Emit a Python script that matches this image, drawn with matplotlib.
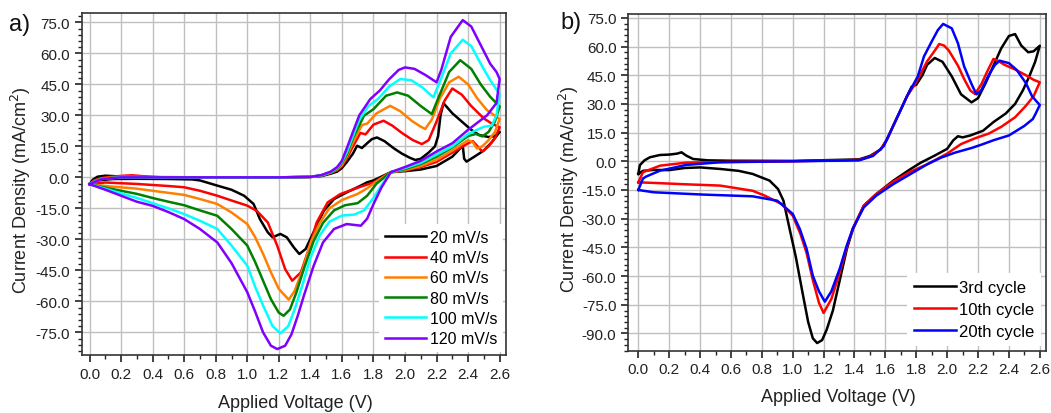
import matplotlib
matplotlib.use('Agg')
import matplotlib.pyplot as plt
from matplotlib.ticker import MultipleLocator, FormatStrFormatter

plt.rcParams['font.family'] = ['Liberation Sans', 'DejaVu Sans']
plt.rcParams['axes.unicode_minus'] = False

# ---- panel a: scan rates (forward sweep then reverse sweep) ----
rate_labels = ['20 mV/s', '40 mV/s', '60 mV/s', '80 mV/s', '100 mV/s', '120 mV/s']
rate_colors = ['#000000', '#ff0000', '#ff8000', '#008000', '#00ffff', '#8000ff']

v20 = [0.0, 0.02, 0.05, 0.1, 0.15, 0.25, 0.4, 0.8, 1.2, 1.4, 1.47, 1.53, 1.57, 1.6, 1.63, 1.67, 1.696, 1.727,
       1.76, 1.79, 1.822, 1.87, 1.93, 1.98, 2.03, 2.065, 2.1, 2.15, 2.19, 2.21, 2.225, 2.244, 2.3, 2.36, 2.42,
       2.47, 2.53, 2.57, 2.6,
       2.55, 2.5, 2.45, 2.39, 2.375, 2.366, 2.35, 2.3, 2.2, 2.1, 2.0, 1.91, 1.8, 1.76, 1.72, 1.63, 1.55, 1.485,
       1.42, 1.37, 1.33, 1.295, 1.25, 1.21, 1.16, 1.13, 1.08, 1.04, 0.98, 0.9, 0.81, 0.7, 0.65, 0.5, 0.3, 0.15,
       0.05, 0.0]
j20 = [-3.3, -1.2, 0.3, 0.8, 0.6, 0.2, 0, 0, 0, 0.2, 0.6, 1.8, 2.8, 4.5, 7.3, 11.5, 15.3, 14.2,
       16.5, 18.5, 19.3, 17.5, 14, 11.5, 9.5, 8.4, 9, 12, 15, 20, 30, 35.9, 31, 27, 23,
       20.5, 19.5, 20, 22,
       17, 13, 10.5, 7.6, 9, 15.5, 14, 10, 5.5, 3.8, 3.0, 2.5, -1.5, -2.4, -4.0, -7.3, -10.5, -16.2,
       -26.6, -34.7, -37.1, -33.9, -29, -27.4, -29, -26.6, -20.2, -12.9, -8.9, -6, -4, -1.5, -1, -0.8, -0.7, -0.8,
       -1.5, -3.3]

v40 = [0.0, 0.03, 0.08, 0.15, 0.22, 0.27, 0.33, 0.45, 0.8, 1.2, 1.4, 1.47, 1.53, 1.57, 1.6, 1.63, 1.67, 1.717,
       1.75, 1.8, 1.864, 1.92, 1.98, 2.05, 2.107, 2.15, 2.2, 2.25, 2.30, 2.36, 2.42, 2.5, 2.55, 2.6,
       2.57, 2.53, 2.49, 2.46, 2.43, 2.4, 2.3, 2.2, 2.1, 2.0, 1.91, 1.8, 1.72, 1.59, 1.51, 1.44, 1.39, 1.34,
       1.285, 1.24, 1.19, 1.13, 1.06, 1.0, 0.9, 0.81, 0.7, 0.6, 0.5, 0.4, 0.3, 0.1, 0.0]
j40 = [-3.3, -1.5, -0.3, 0.4, 0.8, 1.0, 0.6, 0.1, 0, 0, 0.2, 0.8, 2.2, 3.5, 5.5, 9, 15, 21.5,
       20.8, 25.5, 27.4, 25, 21.5, 18, 16.1, 18, 27, 37, 43, 40, 34.5, 28.5, 26, 24.2,
       19, 15, 12.5, 15, 17.5, 16.5, 12, 7.5, 5, 3.3, 2.5, -2.5, -4.5, -8.1, -12.1, -21.8, -34.7, -46,
       -50, -44.4, -33.1, -21.8, -16.2, -13.7, -11.2, -8.9, -6.5, -4.8, -4.2, -3.7, -3.2, -2.5, -3.3]

v60 = [0.0, 0.03, 0.08, 0.2, 0.4, 0.8, 1.2, 1.4, 1.47, 1.53, 1.57, 1.6, 1.63, 1.67, 1.727, 1.76, 1.82, 1.906,
       1.97, 2.04, 2.1, 2.128, 2.17, 2.22, 2.28, 2.34, 2.4, 2.46, 2.52, 2.6,
       2.57, 2.53, 2.49, 2.455, 2.43, 2.4, 2.3, 2.2, 2.1, 2.0, 1.91, 1.82, 1.76, 1.7, 1.6, 1.52, 1.46, 1.4,
       1.35, 1.3, 1.263, 1.2, 1.15, 1.1, 1.05, 1.0, 0.9, 0.81, 0.7, 0.6, 0.5, 0.4, 0.3, 0.1, 0.0]
j60 = [-3.3, -1.8, -0.5, 0.3, 0.1, 0, 0, 0.2, 0.9, 2.3, 3.8, 6, 10, 17, 25.3, 26, 31, 34.6,
       32, 27.5, 24.5, 23.4, 28, 38, 46, 48.7, 45, 38, 32.5, 28.2,
       22, 18, 15, 14, 17, 18, 13, 8.5, 5.5, 3.5, 2.5, -2, -5.3, -8, -11, -15, -22, -32,
       -45, -55, -59.2, -54, -46, -37, -29, -22.6, -17, -12.9, -10.5, -8.5, -7.5, -6.5, -5.5, -4.2, -3.3]

v80 = [0.0, 0.03, 0.08, 0.2, 0.6, 1.2, 1.4, 1.47, 1.53, 1.57, 1.6, 1.63, 1.67, 1.74, 1.8, 1.88, 1.95, 2.02,
       2.1, 2.17, 2.22, 2.28, 2.35, 2.42, 2.48, 2.54, 2.6,
       2.57, 2.53, 2.49, 2.45, 2.4, 2.3, 2.2, 2.1, 2.0, 1.91, 1.82, 1.76, 1.7, 1.62, 1.55, 1.48, 1.42, 1.36,
       1.31, 1.27, 1.23, 1.2, 1.15, 1.1, 1.05, 1.0, 0.9, 0.81, 0.7, 0.6, 0.5, 0.4, 0.3, 0.1, 0.0]
j80 = [-3.3, -2, -0.6, 0, 0, 0, 0.2, 1.0, 2.4, 4.2, 7, 11, 19, 29.8, 33, 39.5, 41.1, 39.5,
       34.5, 30.6, 40, 51, 56.7, 52.5, 45, 39, 34.3,
       27, 22, 19.8, 21, 20, 14.5, 10, 6.5, 4, 2.5, -3, -8.9, -12.5, -13.5, -16, -22, -31, -44,
       -56, -64, -67, -65.5, -59, -50, -41, -33, -25, -18.6, -16, -13.5, -11.8, -10, -8, -5, -3.3]

v100 = [0.0, 0.03, 0.08, 0.2, 0.6, 1.2, 1.4, 1.47, 1.53, 1.57, 1.6, 1.63, 1.67, 1.71, 1.77, 1.83, 1.9, 1.97,
        2.04, 2.11, 2.18, 2.23, 2.29, 2.366, 2.42, 2.48, 2.54, 2.6,
        2.58, 2.55, 2.5, 2.4, 2.3, 2.2, 2.1, 2.0, 1.91, 1.85, 1.8, 1.74, 1.68, 1.6, 1.52, 1.46, 1.4, 1.35,
        1.3, 1.26, 1.21, 1.16, 1.1, 1.05, 1.0, 0.9, 0.81, 0.7, 0.6, 0.5, 0.4, 0.3, 0.1, 0.0]
j100 = [-3.3, -2.2, -0.7, 0, 0, 0, 0.2, 1.0, 2.6, 4.6, 7.5, 12, 20, 28, 34.6, 38, 44, 47.6,
        47, 43.5, 38.7, 48, 60, 66.6, 63.5, 55, 47, 40.3,
        30, 25, 24.5, 21, 15, 11, 7, 4.5, 2.5, -4, -10, -16, -18, -18.5, -21.5, -28, -39, -52,
        -64, -72, -75.5, -72, -62, -53, -42.8, -33, -25, -21, -17.8, -15, -12.5, -10, -5.5, -3.3]

v120 = [0.0, 0.03, 0.08, 0.2, 0.6, 1.2, 1.4, 1.47, 1.53, 1.57, 1.6, 1.633, 1.67, 1.71, 1.78, 1.84, 1.9, 1.96,
        2.0, 2.06, 2.13, 2.2, 2.23, 2.29, 2.366, 2.42, 2.48, 2.54, 2.58, 2.6,
        2.58, 2.52, 2.4, 2.3, 2.2, 2.1, 2.0, 1.91, 1.85, 1.8, 1.76, 1.72, 1.63, 1.55, 1.48, 1.42, 1.36, 1.32,
        1.28, 1.24, 1.19, 1.15, 1.1, 1.05, 1.0, 0.9, 0.81, 0.7, 0.6, 0.5, 0.4, 0.3, 0.1, 0.0]
j120 = [-3.3, -2.3, -0.8, 0, 0, 0, 0.2, 1.1, 2.8, 5, 8, 14.5, 22, 30, 37.9, 42, 47.5, 52,
        53.2, 52.5, 49.5, 46, 52, 68, 76.1, 73, 64, 55, 51, 47.6,
        36, 30, 23, 16.5, 12.5, 8, 5, 2.5, -5, -13, -20, -23.4, -22.6, -25, -31.5, -43, -57, -67,
        -76, -81.5, -83.1, -81.5, -75, -65, -55.6, -41.5, -31.5, -25, -20.2, -16.8, -13.8, -11.8, -6, -3.3]

# ---- panel b: cycles ----
cycle_labels = ['3rd cycle', '10th cycle', '20th cycle']
cycle_colors = ['#000000', '#ff0000', '#0000ff']

v3 = [0.0, 0.01, 0.04, 0.075, 0.14, 0.2, 0.25, 0.28, 0.31, 0.355, 0.45, 0.6, 1.0, 1.43, 1.5, 1.57, 1.61, 1.65,
      1.7, 1.74, 1.77, 1.8, 1.84, 1.87, 1.92, 1.97, 2.03, 2.09, 2.158, 2.2, 2.25, 2.3, 2.35, 2.4, 2.44, 2.48,
      2.525, 2.56, 2.6,
      2.57, 2.53, 2.49, 2.44, 2.38, 2.3, 2.233, 2.15, 2.1, 2.07, 2.04, 2.0, 1.92, 1.83, 1.76, 1.65, 1.54, 1.46,
      1.39, 1.35, 1.305, 1.26, 1.22, 1.19, 1.158, 1.13, 1.1, 1.067, 1.02, 0.98, 0.96, 0.94, 0.905, 0.85, 0.74,
      0.65, 0.53, 0.4, 0.3, 0.2, 0.1, 0.03, 0.0]
j3 = [-6.6, -2, 0.5, 2.1, 3.3, 3.5, 4, 4.7, 3, 1.2, 0.5, 0.3, 0.2, 1, 2.8, 6.2, 11.4, 18.4,
      27, 34, 39, 40, 45, 50.4, 54, 52, 44.4, 35, 30.8, 33, 41, 50, 59, 65.5, 66.5, 60.5,
      57, 57.5, 60.4,
      52, 44, 37, 30, 25, 20.5, 16, 13.5, 12.5, 13.1, 11, 6.5, 3, -0.7, -4.2, -10.2, -17.2, -23.2,
      -35.4, -46, -62, -78, -88, -93.5, -95, -92.5, -84, -70.2, -50, -35.4, -28, -20.6, -14.5, -10.1, -6.6,
      -5, -4, -3.2, -3.5, -4.6, -4.5, -5, -6.6]

v10 = [0.0, 0.03, 0.14, 0.31, 0.6, 1.0, 1.43, 1.5, 1.57, 1.61, 1.65, 1.7, 1.74, 1.79, 1.83, 1.87, 1.93, 1.948,
       1.98, 2.01, 2.07, 2.11, 2.15, 2.18, 2.22, 2.26, 2.3, 2.33, 2.37, 2.44, 2.51, 2.56, 2.6,
       2.56, 2.51, 2.44, 2.35, 2.27, 2.18, 2.09, 2.0, 1.87, 1.76, 1.65, 1.54, 1.46, 1.39, 1.35, 1.305, 1.25,
       1.2, 1.17, 1.13, 1.09, 1.05, 1.0, 0.93, 0.82, 0.74, 0.53, 0.3, 0.1, 0.0]
j10 = [-11, -5.7, -2.3, -0.7, -0.3, 0, 0.7, 2.4, 6.2, 11.4, 18.4, 27, 34, 40, 46, 52.2, 59, 61.3,
       60.5, 58, 50, 43, 37, 35.2, 40, 47, 53.5, 52.5, 50.5, 48, 45, 42.6, 41.3,
       34, 29, 23, 18, 14.5, 12, 9, 4, -1.6, -5.5, -10.7, -17.2, -23.2, -35, -45, -58, -72,
       -79.3, -74, -62, -48, -38, -28.4, -22.4, -18, -15.4, -12.7, -12, -11.3, -11]

v20c = [0.0, 0.03, 0.05, 0.14, 0.31, 0.53, 1.0, 1.43, 1.52, 1.59, 1.63, 1.68, 1.74, 1.81, 1.85, 1.9, 1.94, 1.974,
        2.03, 2.07, 2.11, 2.16, 2.19, 2.22, 2.27, 2.31, 2.34, 2.4, 2.45, 2.51, 2.55, 2.6,
        2.57, 2.555, 2.5, 2.4, 2.3, 2.233, 2.16, 2.05, 1.96, 1.87, 1.76, 1.65, 1.54, 1.46, 1.39, 1.35, 1.305,
        1.25, 1.208, 1.17, 1.13, 1.09, 1.046, 1.0, 0.9, 0.74, 0.42, 0.1, 0.0]
j20c = [-15, -9, -8, -4.9, -1.9, -0.5, 0, 0.5, 2.8, 8, 14.9, 23.6, 34, 44.4, 54.8, 62.6, 68.6, 71.8,
        69.5, 61.7, 49.6, 40, 35, 37, 45.2, 50.4, 52.6, 51.3, 47.8, 40.9, 34, 29.4,
        24.4, 22.1, 18.5, 13.5, 11, 9, 7, 4.5, 1.9, -1.6, -6.8, -12, -18, -24.1, -35, -44, -56,
        -68, -73.4, -68, -59.8, -45.8, -35.4, -27.5, -20.6, -18.3, -17.4, -16.2, -15]


def style_axes(ax, ymin, ymax):
    ax.set_xlim(-0.05, 2.64)
    ax.set_ylim(ymin, ymax)
    ax.xaxis.set_major_locator(MultipleLocator(0.2))
    ax.xaxis.set_minor_locator(MultipleLocator(0.1))
    ax.yaxis.set_major_locator(MultipleLocator(15))
    ax.yaxis.set_minor_locator(MultipleLocator(3))
    ax.xaxis.set_major_formatter(FormatStrFormatter('%.1f'))
    ax.yaxis.set_major_formatter(FormatStrFormatter('%.1f'))
    ax.grid(True, which='major', color='#c0c0c0', linewidth=1.0)
    ax.set_axisbelow(True)
    ax.tick_params(which='major', direction='out', length=5, width=1.2, labelsize=11, colors='#222222')
    ax.tick_params(which='minor', direction='out', length=3, width=1.0, colors='#222222')
    for s in ax.spines.values():
        s.set_linewidth(1.2)
        s.set_color('#333333')
    ax.set_xlabel('Applied Voltage (V)', fontsize=13, color='#222222')
    ax.set_ylabel('Current Density (mA/cm$^2$)', fontsize=13, color='#222222')


fig = plt.figure(figsize=(10.51, 4.14), dpi=100)
ax1 = fig.add_axes([0.0777, 0.140, 0.4037, 0.826])
ax2 = fig.add_axes([0.5978, 0.1505, 0.3974, 0.8133])

for v, j, c, lab in zip([v20, v40, v60, v80, v100, v120], [j20, j40, j60, j80, j100, j120],
                        rate_colors, rate_labels):
    ax1.plot(v, j, color=c, lw=1.8, label=lab, solid_joinstyle='round')
style_axes(ax1, -86, 79.5)
ax1.xaxis.set_label_coords(0.504, -0.115)
ax1.yaxis.set_label_coords(-0.115, 0.485)
ax1.legend(loc='lower right', bbox_to_anchor=(1.0, 0.0), fontsize=11.5, frameon=True, fancybox=False,
           edgecolor='none', facecolor='white', framealpha=1, handlelength=2.6, handletextpad=0.2,
           labelspacing=0.33, borderpad=0.35, borderaxespad=0.2)

for v, j, c, lab in zip([v3, v10, v20c], [j3, j10, j20c], cycle_colors, cycle_labels):
    ax2.plot(v, j, color=c, lw=1.8, label=lab, solid_joinstyle='round')
style_axes(ax2, -99, 77)
ax2.set_xlim(-0.065, 2.64)
ax2.xaxis.set_label_coords(0.504, -0.11)
ax2.yaxis.set_label_coords(-0.113, 0.484)
ax2.legend(loc='lower right', bbox_to_anchor=(1.0, 0.0), fontsize=12, frameon=True, fancybox=False,
           edgecolor='none', facecolor='white', framealpha=1, handlelength=2.5, handletextpad=0.2,
           labelspacing=0.42, borderpad=0.4, borderaxespad=0.3)

fig.text(0.009, 0.925, 'a)', fontsize=17, color='#111111')
fig.text(0.533, 0.93, 'b)', fontsize=17, color='#111111')

fig.savefig('out.png', dpi=100)
plt.close(fig)
